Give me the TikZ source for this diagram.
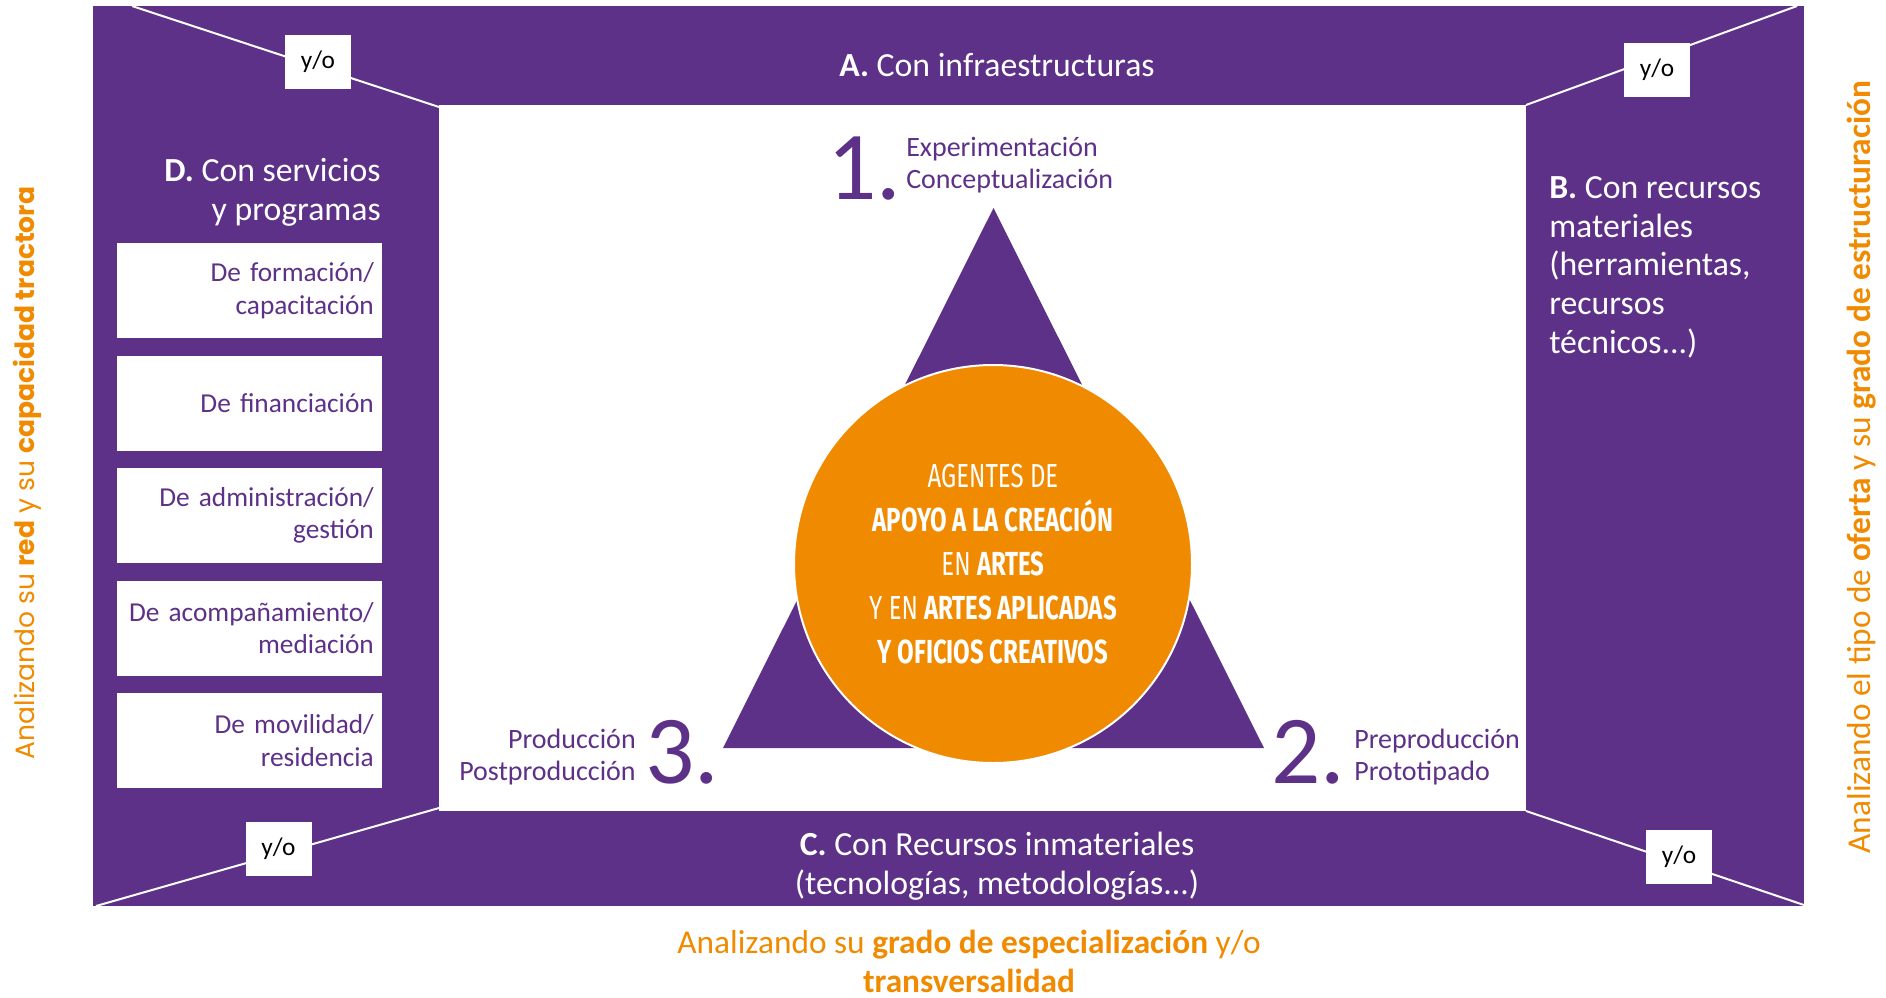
\documentclass[tikz,border=0pt]{standalone}
\usepackage{fontspec}
\setmainfont{Carlito}
\newfontfamily\geofont{Poppins}
\newfontfamily\circfont[FakeStretch=0.72]{Fira Sans}
\usepackage{tikz}
\usepackage{color}
\definecolor{morado}{RGB}{94,49,137}
\definecolor{naranja}{RGB}{240,138,0}

\begin{document}
\begin{tikzpicture}[x=0.75pt,y=0.75pt,yscale=-1,xscale=1,
  titulo/.style={text=white,inner sep=0.75pt,font=\fontsize{25.3}{29}\selectfont},
  cajaD/.style={fill=white,text=morado,text width=186.5pt,align=right,inner xsep=6pt,inner ysep=0pt,minimum height=71.25pt,font=\fontsize{20.5}{24.5}\selectfont},
  yo/.style={fill=white,text=black,inner sep=0pt,minimum width=49.5pt,minimum height=40.5pt,font=\fontsize{19}{22}\selectfont},
  fase/.style={text=morado,inner sep=0.75pt,font=\fontsize{21}{24}\selectfont},
  numero/.style={text=morado,inner sep=0pt,font=\fontsize{73}{75}\selectfont},
  diagonal/.style={draw=white,line width=1.5pt}]
\useasboundingbox (0,0) rectangle (1886,997);
%Shape: Rectangle
\fill [morado] (93,6) rectangle (1804,906);
%Shape: Rectangle
\fill [white] (439,105) rectangle (1526,811);
% corners
\coordinate (oTL) at (132,6);
\coordinate (iTL) at (439,107);
\coordinate (oTR) at (1797,6);
\coordinate (iTR) at (1526,105);
\coordinate (oBL) at (96,906);
\coordinate (iBL) at (439,808);
\coordinate (oBR) at (1804,905);
\coordinate (iBR) at (1526,811);
%Straight Lines
\draw [diagonal] (oTL) -- (iTL) ;
%Straight Lines
\draw [diagonal] (oTR) -- (iTR) ;
%Straight Lines
\draw [diagonal] (oBL) -- (iBL) ;
%Straight Lines
\draw [diagonal] (iBR) -- (oBR) ;
% y/o boxes
\draw (318,62) node [yo] (yoA) {y/o};
\draw (1657,69.5) node [yo] (yoB) {y/o};
\draw (278.5,848.5) node [yo] (yoD) {y/o};
\draw (1679,857) node [yo] (yoC) {y/o};
% Text Node
\draw (997,76) node [anchor=base] [titulo] (infra) {\textbf{A.} Con infraestructuras};
% Text Node
\draw (1548,353) node [anchor=base west] [titulo,align=left] (recursos) {\textbf{B.} Con recursos\\materiales\\(herramientas,\\recursos\\técnicos...)};
% Text Node
\draw (997,894) node [anchor=base] [titulo,align=center] (inmat) {\textbf{C.} Con Recursos inmateriales\\(tecnologías, metodologías...)};
% Text Node
\draw (382,220) node [anchor=base east] [titulo,align=right] (servicios) {\textbf{D.} Con servicios\\y programas};
% service boxes
\draw (249.5,290.5) node [cajaD] (formacion) {De formación/\\capacitación};
\draw (249.5,403) node [cajaD] (financiacion) {De financiación};
\draw (249.5,515.5) node [cajaD] (gestion) {De administración/\\gestión};
\draw (249.5,628) node [cajaD] (mediacion) {De acompañamiento/\\mediación};
\draw (249.5,740.5) node [cajaD] (movilidad) {De movilidad/\\residencia};
%Shape: Triangle
\fill [morado] (993.5,208) -- (1264,748) -- (723,748) -- cycle;
%Shape: Circle
\draw (993,564) node [circle,fill=naranja,draw=white,line width=1.5pt,minimum size=298.5pt,inner sep=0pt,align=center,text=white,font=\circfont\fontsize{25}{33}\selectfont] (agentes) {AGENTES DE\\\textbf{APOYO A LA CREACIÓN}\\EN \textbf{ARTES}\\Y EN \textbf{ARTES APLICADAS}\\\textbf{Y OFICIOS CREATIVOS}};
% Text Node
\draw (827,199) node [anchor=base west] [numero] (uno) {1.};
\draw (905,188) node [anchor=base west] [fase,align=left] (fase1) {Experimentación\\Conceptualización};
% Text Node
\draw (1271,783) node [anchor=base west] [numero] (dos) {2.};
\draw (1353,780) node [anchor=base west] [fase,align=left] (fase2) {Preproducción\\Prototipado};
% Text Node
\draw (645,783) node [anchor=base west] [numero] (tres) {3.};
\draw (637,780) node [anchor=base east] [fase,align=right] (fase3) {Producción\\Postproducción};
% axis labels
\draw (27,473) node [rotate=90,text=naranja,inner sep=0pt,font=\geofont\fontsize{19.9}{22}\selectfont] (ejeRed) {Analizando su \textbf{red} y su \textbf{capacidad tractora}};
\draw (1862,467) node [rotate=90,text=naranja,inner sep=0pt,font=\fontsize{25}{28}\selectfont] (ejeOferta) {Analizando el tipo de \textbf{oferta} y su \textbf{grado de estructuración}};
\draw (969,992) node [anchor=base,align=center,text=naranja,inner sep=0pt,font=\fontsize{25}{29}\selectfont] (ejeGrado) {Analizando su \textbf{grado de especialización} y/o\\\textbf{transversalidad}};
\end{tikzpicture}
\end{document}
